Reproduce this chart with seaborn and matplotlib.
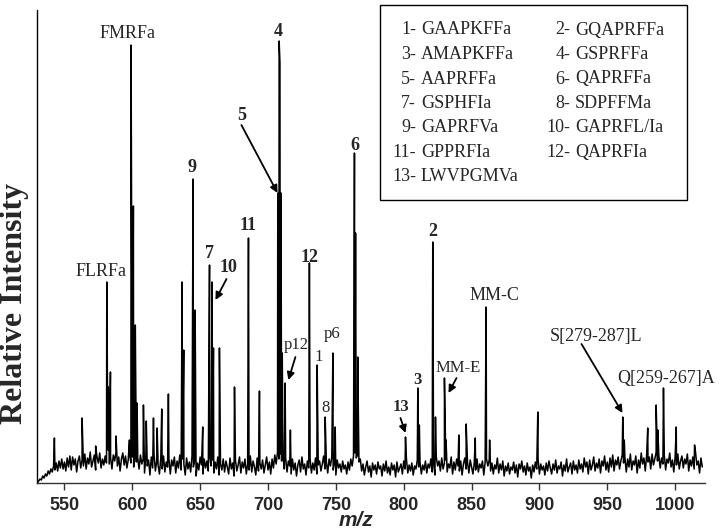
import matplotlib
matplotlib.use("Agg")
from matplotlib import pyplot as plt
from matplotlib.patches import Rectangle
import numpy as np
import pandas as pd
import seaborn as sns

# baseline noise, one value per m/z unit from 530 to 1020 (arbitrary units)
noise = [
    0, 2, 4, 3, 7, 5, 9, 7, 12, 9, 14, 11, 17, 13, 20, 12, 22, 15, 24, 14, 21, 12, 25, 16, 27,
    13, 26, 18, 24, 11, 22, 27, 15, 23, 17, 29, 14, 25, 19, 31, 16, 22, 28, 13, 26, 20, 30, 15, 24, 18,
    27, 20, 33, 19, 25, 14, 28, 22, 31, 17, 26, 12, 24, 30, 18, 27, 15, 23, 29, 20, 26, 16, 31, 21, 25,
    14, 28, 19, 24, 10, 27, 17, 23, 8, 26, 15, 29, 12, 22, 18, 9, 25, 14, 27, 11, 21, 16, 24, 9, 23,
    17, 26, 10, 22, 15, 28, 13, 24, 19, 8, 25, 14, 21, 11, 27, 16, 23, 7, 20, 13, 26, 18, 9, 24, 15,
    22, 12, 27, 17, 23, 10, 21, 14, 26, 8, 19, 13, 24, 11, 22, 16, 9, 25, 14, 20, 7, 23, 12, 18, 26,
    10, 21, 15, 24, 9, 19, 13, 27, 11, 22, 16, 8, 25, 12, 20, 14, 23, 10, 18, 26, 13, 21, 9, 24, 15,
    28, 19, 31, 24, 29, 22, 27, 14, 25, 11, 22, 17, 9, 24, 13, 20, 7, 18, 23, 11, 26, 14, 19, 8, 22,
    15, 24, 10, 20, 13, 25, 9, 18, 22, 12, 19, 27, 14, 21, 10, 24, 17, 26, 13, 20, 8, 23, 15, 19, 11,
    22, 14, 18, 9, 21, 13, 24, 17, 27, 30, 25, 28, 21, 24, 12, 19, 8, 16, 22, 11, 17, 6, 20, 13, 18,
    9, 21, 14, 17, 7, 19, 12, 22, 10, 16, 8, 20, 13, 18, 6, 21, 11, 15, 19, 9, 22, 14, 24, 10, 18,
    12, 20, 8, 17, 14, 23, 16, 21, 9, 18, 13, 22, 10, 19, 15, 24, 11, 20, 8, 26, 17, 22, 12, 25, 14,
    20, 23, 11, 19, 15, 26, 9, 21, 13, 24, 17, 12, 22, 8, 19, 25, 14, 21, 10, 23, 16, 9, 20, 13, 24,
    11, 19, 15, 22, 8, 21, 24, 17, 23, 12, 20, 9, 18, 14, 25, 10, 19, 13, 22, 7, 17, 12, 20, 9, 16,
    13, 21, 10, 18, 6, 19, 14, 22, 11, 17, 8, 20, 12, 16, 5, 18, 11, 21, 14, 24, 9, 19, 13, 17, 8,
    20, 12, 22, 15, 9, 19, 13, 23, 10, 17, 14, 21, 7, 18, 12, 24, 11, 16, 20, 9, 22, 13, 18, 10, 23,
    14, 19, 11, 25, 16, 21, 9, 23, 13, 18, 26, 12, 20, 15, 24, 10, 22, 17, 27, 13, 21, 11, 25, 16, 28,
    12, 23, 18, 26, 14, 22, 28, 20, 25, 11, 24, 16, 29, 13, 22, 18, 27, 10, 23, 15, 30, 19, 25, 12, 28,
    21, 26, 14, 29, 18, 24, 31, 22, 27, 15, 25, 19, 28, 13, 24, 20, 30, 16, 23, 11, 26, 18, 29, 14, 22,
    27, 15, 24, 19, 29, 12, 23, 17, 26, 14, 31, 18, 22, 10, 25, 16,
]
noise_start = 530

# peaks
peak_mz = [542.6, 563.0, 573.0, 581.2, 582.3, 583.9, 588.0, 597.9, 599.1, 600.8,
           602.2, 603.5, 608.2, 610.3, 615.6, 618.3, 621.7, 626.6, 636.7, 637.9,
           644.8, 646.3, 651.9, 656.9, 658.8, 659.8, 664.2, 675.3, 685.6, 693.7,
           707.2, 708.2, 708.8, 709.6, 710.5, 712.6, 716.5, 730.5, 736.2, 742.1,
           747.8, 749.5, 763.7, 764.5, 766.1, 801.3, 810.4, 811.5, 821.4, 823.4,
           830.0, 831.2, 840.6, 846.0, 852.7, 860.7, 863.3, 898.8, 961.4, 962.5,
           979.8, 986.0, 987.2, 991.4, 1000.8, 1014.3]
peak_int = [45, 65, 37, 201, 96, 111, 47, 43, 438, 277,
            158, 80, 78, 62, 65, 55, 74, 89, 201, 133,
            304, 173, 56, 218, 201, 135, 135, 96, 245, 92,
            290, 442, 420, 290, 130, 100, 53, 220, 118, 66,
            130, 56, 330, 250, 126, 46, 95, 58, 241, 66,
            105, 43, 48, 59, 45, 176, 43, 71, 66, 43,
            55, 78, 53, 95, 56, 38]

# annotations: text, m/z, height, bold, size
labels = [
    ("FMRFa", 596.4, 450, False, 13),
    ("FLRFa", 577.3, 211, False, 13),
    ("9", 644.3, 315, True, 13),
    ("7", 656.9, 230, True, 13),
    ("10", 670.9, 215, True, 13),
    ("11", 685.6, 257, True, 13),
    ("5", 680.4, 368, True, 13),
    ("4", 707.7, 452, True, 13),
    ("12", 730.5, 226, True, 13),
    ("6", 763.7, 338, True, 13),
    ("2", 821.2, 251, True, 13),
    ("p12", 721.0, 138, False, 12),
    ("1", 737.2, 126, False, 12),
    ("p6", 747.5, 149, False, 12),
    ("8", 742.3, 75, False, 12),
    ("13", 798.3, 76, True, 12),
    ("3", 810.1, 103, True, 12),
    ("MM-E", 840.3, 115, False, 12),
    ("MM-C", 866.9, 188, False, 13),
    ("S[279-287]L", 942.0, 147, False, 13),
    ("Q[259-267]A", 993.6, 105, False, 13),
]
# arrows: start (m/z, height) -> tip (m/z, height)
arrows = [
    ((669.4, 204), (661.3, 183)),
    ((680.4, 358), (707.0, 290)),
    ((720.2, 126), (715.0, 103)),
    ((797.6, 65), (801.3, 50)),
    ((838.9, 105), (833.0, 90)),
    ((931.0, 139), (961.2, 70)),
]

key_left = ["1-", "3-", "5-", "7-", "9-", "11-", "13-"]
key_left_names = ["GAAPKFFa", "AMAPKFFa", "AAPRFFa", "GSPHFIa", "GAPRFVa", "GPPRFIa", "LWVPGMVa"]
key_right = ["2-", "4-", "6-", "8-", "10-", "12-"]
key_right_names = ["GQAPRFFa", "GSPRFFa", "QAPRFFa", "SDPFFMa", "GAPRFL/Ia", "QAPRFIa"]

# merge noise and peaks into one trace
noise_mz = noise_start + np.arange(len(noise))
df = pd.DataFrame({
    "mz": np.concatenate([noise_mz, peak_mz]),
    "intensity": np.concatenate([noise, peak_int]),
}).sort_values("mz", kind="stable")

sns.set_style("ticks")
plt.rcParams["font.family"] = ["Liberation Serif", "DejaVu Serif"]

fig = plt.figure(figsize=(7.2, 5.32), dpi=100)
ax = fig.add_axes([37.3 / 720, 49 / 532, 667.7 / 720, 473 / 532])

sns.lineplot(data=df, x="mz", y="intensity", ax=ax, color="black",
             lw=1.1, estimator=None, sort=False)

ax.set_xlim(530, 1022)
ax.set_ylim(0, 473)
ax.set_xticks(np.arange(550, 1001, 50))
ax.set_yticks([])
for sp in ["top", "right"]:
    ax.spines[sp].set_visible(False)
ax.spines["left"].set_color("black")
ax.spines["left"].set_linewidth(1.0)
ax.spines["bottom"].set_color("#333333")
ax.spines["bottom"].set_linewidth(1.0)
ax.tick_params(axis="x", direction="out", length=5, width=1, pad=5, color="#333333")
for lab in ax.get_xticklabels():
    lab.set_fontfamily(["Liberation Sans", "DejaVu Sans"])
    lab.set_fontweight("bold")
    lab.set_fontsize(13)

ax.set_xlabel("m/z", fontfamily=["Liberation Sans", "DejaVu Sans"], fontweight="bold",
              fontstyle="italic", fontsize=15, va="center")
ax.xaxis.set_label_coords(0.478, -0.079)
ax.set_ylabel("Relative Intensity", fontweight="bold", fontsize=23, va="center")
ax.yaxis.set_label_coords(-0.034, 0.38)

for text, x, y, bold, size in labels:
    ax.text(x, y, text, ha="center", va="center", fontsize=size,
            fontweight="bold" if bold else "normal")

for start, tip in arrows:
    ax.annotate("", xy=tip, xytext=start,
                arrowprops=dict(arrowstyle="-|>", color="black", lw=1.3,
                                mutation_scale=11, shrinkA=0, shrinkB=0))

# peptide key box
fig.add_artist(Rectangle((380 / 720, 1 - 200 / 532), 307 / 720, 195 / 532,
                         transform=fig.transFigure, fill=False, ec="black", lw=1.0))
rows_y = [30, 54.5, 79, 103.5, 128, 152.5, 177]
for i, (num, name) in enumerate(zip(key_left, key_left_names)):
    fig.text(416 / 720, 1 - rows_y[i] / 532, num, ha="right", va="center", fontsize=13)
    fig.text(421 / 720, 1 - rows_y[i] / 532, name, ha="left", va="center", fontsize=13)
for i, (num, name) in enumerate(zip(key_right, key_right_names)):
    fig.text(570 / 720, 1 - rows_y[i] / 532, num, ha="right", va="center", fontsize=13)
    fig.text(575 / 720, 1 - rows_y[i] / 532, name, ha="left", va="center", fontsize=13)

plt.savefig("out.png", dpi=100)
